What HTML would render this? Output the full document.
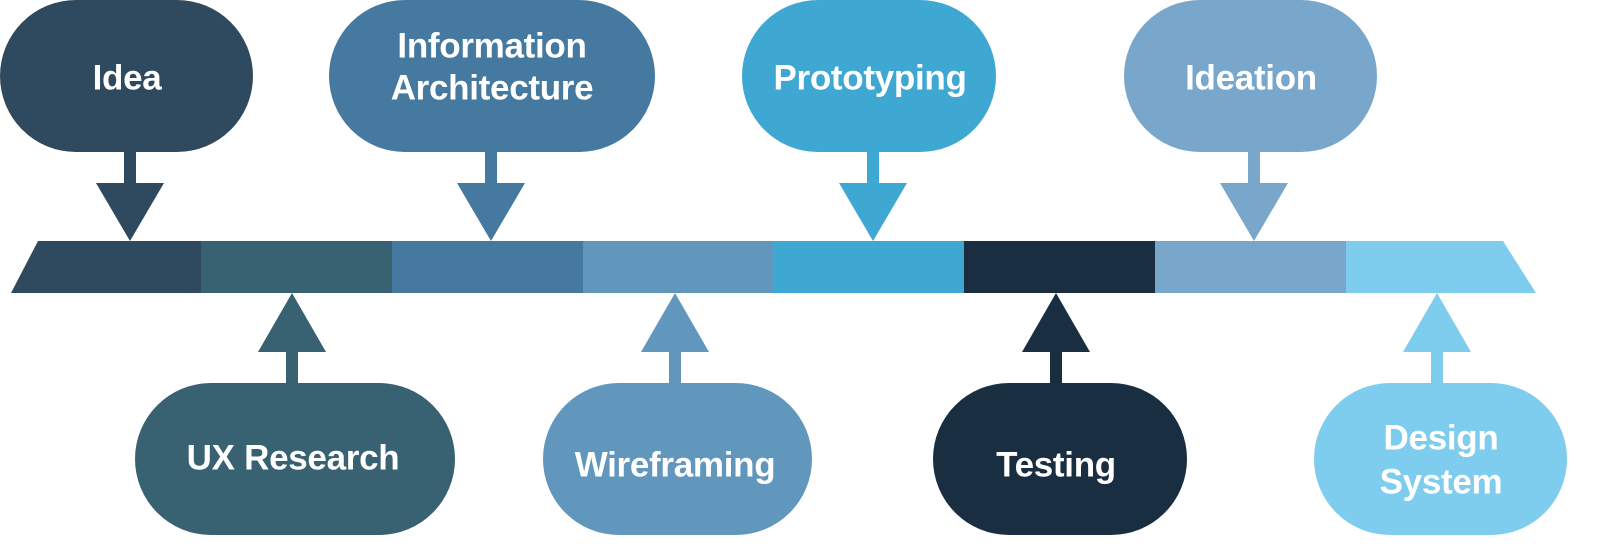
<!DOCTYPE html>
<html><head><meta charset="utf-8"><style>
html,body{margin:0;padding:0;background:#fff;}
svg{display:block;}
text{font-family:"Liberation Sans",sans-serif;font-weight:bold;font-size:35px;fill:#fff;text-anchor:middle;dominant-baseline:central;letter-spacing:-0.3px;}
</style></head><body>
<svg width="1603" height="547" viewBox="0 0 1603 547" xmlns="http://www.w3.org/2000/svg">
<polygon points="38,241 201,241 201,293 11,293" fill="#2f4a5e"/>
<rect x="201" y="241" width="191" height="52" fill="#386172"/>
<rect x="392" y="241" width="191" height="52" fill="#45799f"/>
<rect x="583" y="241" width="190" height="52" fill="#6297bd"/>
<rect x="773" y="241" width="191" height="52" fill="#3ea7d2"/>
<rect x="964" y="241" width="191" height="52" fill="#1a2e42"/>
<rect x="1155" y="241" width="191" height="52" fill="#78a7cb"/>
<polygon points="1346,241 1503,241 1536,293 1346,293" fill="#7fcdee"/>

<g fill="#2f4a5e">
<rect x="0" y="0" width="253" height="152" rx="76"/>
<rect x="124" y="150" width="12" height="34"/>
<polygon points="96,183 164,183 130,241"/>
</g>
<text x="127" y="78">Idea</text>

<g fill="#45799f">
<rect x="329" y="0" width="326" height="152" rx="76"/>
<rect x="485" y="150" width="12" height="34"/>
<polygon points="457,183 525,183 491,241"/>
</g>
<text x="492" y="46">Information</text>
<text x="492" y="88">Architecture</text>

<g fill="#3ea7d2">
<rect x="742" y="0" width="254" height="152" rx="76"/>
<rect x="867" y="150" width="12" height="34"/>
<polygon points="839,183 907,183 873,241"/>
</g>
<text x="870" y="78">Prototyping</text>

<g fill="#78a7cb">
<rect x="1124" y="0" width="253" height="152" rx="76"/>
<rect x="1248" y="150" width="12" height="34"/>
<polygon points="1220,183 1288,183 1254,241"/>
</g>
<text x="1251" y="78">Ideation</text>

<g fill="#386172">
<rect x="135" y="383" width="320" height="152" rx="76"/>
<rect x="286" y="351" width="12" height="34"/>
<polygon points="258,352 326,352 292,293"/>
</g>
<text x="293" y="458">UX Research</text>

<g fill="#6297bd">
<rect x="543" y="383" width="269" height="152" rx="76"/>
<rect x="669" y="351" width="12" height="34"/>
<polygon points="641,352 709,352 675,293"/>
</g>
<text x="675" y="465">Wireframing</text>

<g fill="#1a2e42">
<rect x="933" y="383" width="254" height="152" rx="76"/>
<rect x="1050" y="351" width="12" height="34"/>
<polygon points="1022,352 1090,352 1056,293"/>
</g>
<text x="1056" y="465">Testing</text>

<g fill="#7fcdee">
<rect x="1314" y="383" width="253" height="152" rx="76"/>
<rect x="1431" y="351" width="12" height="34"/>
<polygon points="1403,352 1471,352 1437,293"/>
</g>
<text x="1441" y="438">Design</text>
<text x="1441" y="482">System</text>
</svg>
</body></html>
